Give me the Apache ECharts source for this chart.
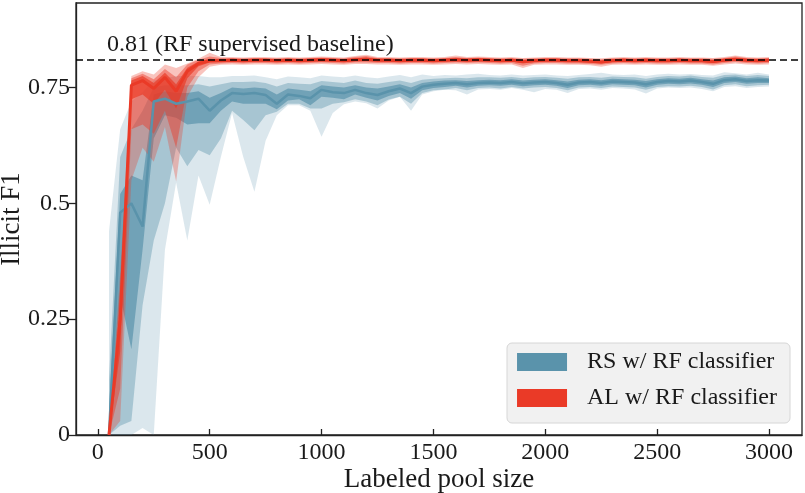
<!DOCTYPE html>
<html style="height: 100%">
<head>
    <meta charset="utf-8">
</head>
<body style="height: 100%; margin: 0; background: #fff">
<div id="container" style="width: 805px; height: 493px"></div>
<script src="https://cdn.jsdelivr.net/npm/echarts@6/dist/echarts.min.js"></script>
<script type="text/javascript">
    // labeled pool sizes (50 .. 3000, step 50)
    var poolSize = [
        50, 100, 150, 200, 250, 300, 350, 400, 450, 500,
        550, 600, 650, 700, 750, 800, 850, 900, 950, 1000,
        1050, 1100, 1150, 1200, 1250, 1300, 1350, 1400, 1450, 1500,
        1550, 1600, 1650, 1700, 1750, 1800, 1850, 1900, 1950, 2000,
        2050, 2100, 2150, 2200, 2250, 2300, 2350, 2400, 2450, 2500,
        2550, 2600, 2650, 2700, 2750, 2800, 2850, 2900, 2950, 3000
    ];
    var xTicks = [0, 500, 1000, 1500, 2000, 2500, 3000];
    var yTicks = [0, 0.25, 0.5, 0.75];
    var baseline = 0.81;

    // RS w/ RF classifier : median + three spread bands
    var rsMed = [
        0.00, 0.48, 0.50, 0.45, 0.72, 0.726, 0.715, 0.72, 0.726, 0.70,
        0.722, 0.738, 0.736, 0.738, 0.734, 0.715, 0.735, 0.732, 0.727, 0.745,
        0.740, 0.738, 0.745, 0.738, 0.734, 0.742, 0.748, 0.738, 0.752, 0.756,
        0.758, 0.760, 0.757, 0.760, 0.761, 0.760, 0.762, 0.759, 0.761, 0.762,
        0.760, 0.756, 0.761, 0.762, 0.760, 0.763, 0.762, 0.761, 0.757, 0.762,
        0.764, 0.763, 0.765, 0.762, 0.758, 0.766, 0.768, 0.764, 0.766, 0.765
    ];
    var rsInHi = [
        0.05, 0.52, 0.56, 0.55, 0.735, 0.742, 0.738, 0.738, 0.742, 0.728,
        0.738, 0.750, 0.748, 0.750, 0.748, 0.735, 0.748, 0.745, 0.742, 0.755,
        0.752, 0.750, 0.755, 0.750, 0.748, 0.752, 0.757, 0.750, 0.760, 0.763,
        0.765, 0.766, 0.764, 0.766, 0.767, 0.766, 0.768, 0.765, 0.767, 0.768,
        0.766, 0.763, 0.767, 0.768, 0.766, 0.769, 0.768, 0.767, 0.764, 0.768,
        0.770, 0.769, 0.771, 0.768, 0.765, 0.772, 0.774, 0.770, 0.772, 0.770
    ];
    var rsInLo = [
        0.00, 0.30, 0.185, 0.40, 0.64, 0.69, 0.685, 0.67, 0.673, 0.673,
        0.70, 0.72, 0.715, 0.715, 0.715, 0.703, 0.722, 0.725, 0.712, 0.73,
        0.728, 0.725, 0.735, 0.728, 0.722, 0.732, 0.738, 0.726, 0.744, 0.749,
        0.751, 0.754, 0.750, 0.754, 0.755, 0.754, 0.756, 0.753, 0.755, 0.756,
        0.754, 0.749, 0.755, 0.756, 0.754, 0.757, 0.756, 0.755, 0.750, 0.756,
        0.758, 0.757, 0.759, 0.756, 0.751, 0.760, 0.762, 0.758, 0.760, 0.760
    ];
    var rsMidHi = [
        0.12, 0.60, 0.66, 0.70, 0.75, 0.755, 0.755, 0.755, 0.757, 0.752,
        0.757, 0.762, 0.762, 0.763, 0.760, 0.752, 0.760, 0.758, 0.757, 0.764,
        0.762, 0.760, 0.765, 0.760, 0.758, 0.762, 0.765, 0.760, 0.767, 0.769,
        0.770, 0.771, 0.770, 0.772, 0.772, 0.771, 0.773, 0.770, 0.772, 0.773,
        0.771, 0.769, 0.772, 0.773, 0.771, 0.774, 0.773, 0.772, 0.769, 0.773,
        0.775, 0.774, 0.776, 0.773, 0.771, 0.777, 0.778, 0.775, 0.777, 0.775
    ];
    var rsMidLo = [
        0.00, 0.02, 0.03, 0.28, 0.42, 0.50, 0.62, 0.58, 0.615, 0.604,
        0.64, 0.70, 0.68, 0.658, 0.69, 0.698, 0.715, 0.715, 0.705, 0.705,
        0.715, 0.718, 0.725, 0.72, 0.712, 0.724, 0.73, 0.715, 0.738, 0.744,
        0.746, 0.749, 0.744, 0.749, 0.750, 0.748, 0.751, 0.748, 0.750, 0.751,
        0.749, 0.744, 0.750, 0.751, 0.749, 0.752, 0.751, 0.750, 0.745, 0.751,
        0.753, 0.752, 0.754, 0.751, 0.746, 0.755, 0.757, 0.753, 0.755, 0.756
    ];
    var rsOutHi = [
        0.44, 0.66, 0.72, 0.74, 0.765, 0.77, 0.775, 0.775, 0.775, 0.772,
        0.772, 0.775, 0.775, 0.776, 0.772, 0.768, 0.774, 0.772, 0.770, 0.776,
        0.774, 0.772, 0.776, 0.772, 0.770, 0.774, 0.777, 0.772, 0.778, 0.775,
        0.777, 0.776, 0.778, 0.780, 0.777, 0.776, 0.778, 0.776, 0.777, 0.778,
        0.776, 0.775, 0.777, 0.779, 0.782, 0.778, 0.777, 0.778, 0.775, 0.778,
        0.780, 0.778, 0.779, 0.777, 0.776, 0.783, 0.781, 0.778, 0.782, 0.778
    ];
    var rsOutLo = [
        0.00, 0.00, 0.00, 0.015, 0.00, 0.40, 0.545, 0.42, 0.56, 0.497,
        0.60, 0.695, 0.60, 0.525, 0.635, 0.69, 0.712, 0.712, 0.70, 0.644,
        0.695, 0.714, 0.72, 0.716, 0.705, 0.722, 0.73, 0.70, 0.735, 0.742,
        0.745, 0.744, 0.735, 0.746, 0.747, 0.745, 0.749, 0.745, 0.740, 0.747,
        0.745, 0.738, 0.747, 0.748, 0.745, 0.749, 0.748, 0.746, 0.737, 0.748,
        0.750, 0.749, 0.750, 0.747, 0.742, 0.751, 0.753, 0.749, 0.751, 0.752
    ];

    // AL w/ RF classifier : median + three spread bands
    var alMed = [
        0.00, 0.25, 0.755, 0.765, 0.748, 0.772, 0.742, 0.785, 0.802, 0.808,
        0.808, 0.809, 0.808, 0.809, 0.809, 0.808, 0.809, 0.808, 0.809, 0.810,
        0.809, 0.808, 0.810, 0.811, 0.809, 0.809, 0.808, 0.809, 0.809, 0.808,
        0.809, 0.810, 0.809, 0.810, 0.809, 0.808, 0.809, 0.806, 0.808, 0.809,
        0.809, 0.808, 0.808, 0.807, 0.805, 0.808, 0.809, 0.808, 0.809, 0.808,
        0.808, 0.809, 0.808, 0.808, 0.806, 0.809, 0.811, 0.809, 0.808, 0.809
    ];
    var alInHi = [
        0.00, 0.29, 0.765, 0.775, 0.76, 0.782, 0.757, 0.793, 0.806, 0.812,
        0.811, 0.812, 0.811, 0.812, 0.812, 0.811, 0.812, 0.811, 0.812, 0.813,
        0.812, 0.811, 0.813, 0.815, 0.812, 0.812, 0.811, 0.812, 0.812, 0.811,
        0.812, 0.813, 0.812, 0.813, 0.812, 0.811, 0.812, 0.809, 0.811, 0.812,
        0.812, 0.811, 0.811, 0.810, 0.808, 0.811, 0.812, 0.811, 0.812, 0.811,
        0.811, 0.812, 0.811, 0.811, 0.809, 0.812, 0.814, 0.812, 0.811, 0.812
    ];
    var alInLo = [
        0.00, 0.18, 0.725, 0.735, 0.715, 0.745, 0.705, 0.77, 0.796, 0.804,
        0.805, 0.806, 0.805, 0.806, 0.806, 0.805, 0.806, 0.805, 0.806, 0.807,
        0.806, 0.805, 0.807, 0.807, 0.806, 0.806, 0.805, 0.806, 0.806, 0.805,
        0.806, 0.807, 0.806, 0.807, 0.806, 0.805, 0.806, 0.802, 0.805, 0.806,
        0.806, 0.805, 0.805, 0.804, 0.802, 0.805, 0.806, 0.805, 0.806, 0.805,
        0.805, 0.806, 0.805, 0.805, 0.803, 0.806, 0.808, 0.806, 0.805, 0.806
    ];
    var alMidHi = [
        0.00, 0.32, 0.77, 0.78, 0.768, 0.79, 0.772, 0.80, 0.81, 0.817,
        0.814, 0.814, 0.813, 0.814, 0.814, 0.813, 0.814, 0.813, 0.814, 0.815,
        0.814, 0.813, 0.816, 0.818, 0.814, 0.814, 0.813, 0.814, 0.814, 0.813,
        0.814, 0.816, 0.814, 0.815, 0.814, 0.813, 0.814, 0.812, 0.813, 0.814,
        0.814, 0.813, 0.813, 0.812, 0.811, 0.813, 0.814, 0.813, 0.814, 0.813,
        0.813, 0.814, 0.813, 0.813, 0.812, 0.814, 0.817, 0.814, 0.813, 0.814
    ];
    var alMidLo = [
        0.00, 0.10, 0.66, 0.67, 0.65, 0.70, 0.62, 0.75, 0.785, 0.80,
        0.802, 0.803, 0.802, 0.803, 0.803, 0.802, 0.803, 0.802, 0.803, 0.804,
        0.803, 0.802, 0.804, 0.804, 0.803, 0.803, 0.802, 0.803, 0.803, 0.802,
        0.803, 0.804, 0.803, 0.804, 0.803, 0.802, 0.803, 0.797, 0.802, 0.803,
        0.803, 0.802, 0.802, 0.801, 0.799, 0.802, 0.803, 0.802, 0.803, 0.802,
        0.802, 0.803, 0.802, 0.802, 0.800, 0.803, 0.805, 0.803, 0.802, 0.803
    ];
    var alOutHi = [
        0.00, 0.35, 0.775, 0.785, 0.778, 0.80, 0.792, 0.802, 0.812, 0.825,
        0.816, 0.816, 0.815, 0.816, 0.816, 0.815, 0.816, 0.815, 0.816, 0.817,
        0.816, 0.815, 0.818, 0.821, 0.816, 0.816, 0.815, 0.816, 0.816, 0.815,
        0.816, 0.819, 0.816, 0.817, 0.816, 0.815, 0.816, 0.814, 0.815, 0.816,
        0.816, 0.815, 0.815, 0.814, 0.813, 0.815, 0.816, 0.815, 0.816, 0.815,
        0.815, 0.816, 0.815, 0.815, 0.814, 0.816, 0.819, 0.816, 0.815, 0.816
    ];
    var alOutLo = [
        0.00, 0.03, 0.55, 0.62, 0.59, 0.665, 0.547, 0.73, 0.772, 0.795,
        0.799, 0.800, 0.799, 0.800, 0.800, 0.799, 0.800, 0.799, 0.800, 0.801,
        0.800, 0.799, 0.801, 0.801, 0.800, 0.800, 0.799, 0.800, 0.800, 0.799,
        0.800, 0.801, 0.800, 0.801, 0.800, 0.799, 0.800, 0.792, 0.799, 0.800,
        0.800, 0.799, 0.799, 0.798, 0.795, 0.799, 0.800, 0.799, 0.800, 0.799,
        0.799, 0.800, 0.799, 0.799, 0.797, 0.800, 0.802, 0.800, 0.799, 0.800
    ];

    var RS_COLOR = '#5a93ab';
    var AL_COLOR = '#ea3a27';
    var FONT = 'Liberation Serif';

    function pairs(ys) {
        return poolSize.map(function (x, i) { return [x, ys[i]]; });
    }

    // one filled polygon between lo and hi, built from the axis scales
    function band(lo, hi, color, opacity, z) {
        var fill = echarts.color.modifyAlpha(color, opacity);
        return {
            type: 'custom', silent: true, z: z, clip: true,
            data: poolSize.map(function (x, i) { return [x, lo[i], hi[i]]; }),
            encode: {x: 0, y: [1, 2]},
            renderItem: function (params, api) {
                if (params.dataIndexInside !== 0) return null;
                var n = params.dataInsideLength;
                var top = [], bottom = [];
                for (var i = 0; i < n; i++) {
                    top.push(api.coord([api.value(0, i), api.value(2, i)]));
                    bottom.push(api.coord([api.value(0, i), api.value(1, i)]));
                }
                return {
                    type: 'polygon',
                    shape: {points: top.concat(bottom.reverse())},
                    style: {fill: fill}
                };
            }
        };
    }

    var series = [
        band(rsOutLo, rsOutHi, RS_COLOR, 0.22, 1),
        band(rsMidLo, rsMidHi, RS_COLOR, 0.40, 1),
        band(rsInLo, rsInHi, RS_COLOR, 0.70, 1),
        band(alOutLo, alOutHi, AL_COLOR, 0.30, 2),
        band(alMidLo, alMidHi, AL_COLOR, 0.45, 2),
        band(alInLo, alInHi, AL_COLOR, 0.70, 2),
        {
            name: 'RS w/ RF classifier', type: 'line', data: pairs(rsMed),
            symbol: 'none', z: 3,
            lineStyle: {color: RS_COLOR, width: 2.5}, itemStyle: {color: RS_COLOR}
        },
        {
            name: 'AL w/ RF classifier', type: 'line', data: pairs(alMed),
            symbol: 'none', z: 4,
            lineStyle: {color: AL_COLOR, width: 3}, itemStyle: {color: AL_COLOR},
            markLine: {
                silent: true, symbol: 'none', z: 10,
                lineStyle: {color: '#000', type: [7, 4], width: 1.6},
                label: {
                    position: 'insideStartTop', distance: [31, 3],
                    formatter: baseline.toFixed(2) + ' (RF supervised baseline)',
                    fontFamily: FONT, fontSize: 24, color: '#1a1a1a'
                },
                data: [{yAxis: baseline}]
            }
        }
    ];

    var dom = document.getElementById("container");
    var myChart = echarts.init(dom);
    var option = {
        animation: false,
        backgroundColor: '#fff',
        grid: {
            left: 76, right: 3, top: 3, bottom: 58,
            outerBoundsMode: 'none',
            show: true, borderColor: '#222', borderWidth: 1.3
        },
        legend: {
            right: 15, bottom: 70,
            orient: 'vertical',
            selectedMode: false,
            backgroundColor: 'rgba(240,240,240,0.9)',
            borderColor: '#d6d6d6', borderWidth: 1, borderRadius: 5,
            padding: [7, 13, 13, 10],
            itemWidth: 50, itemHeight: 18, itemGap: 12,
            textStyle: {fontFamily: FONT, fontSize: 24, color: '#1a1a1a', padding: [0, 0, 0, 15]},
            data: [
                {name: 'RS w/ RF classifier', icon: 'rect', itemStyle: {color: RS_COLOR}},
                {name: 'AL w/ RF classifier', icon: 'rect', itemStyle: {color: AL_COLOR}}
            ]
        },
        xAxis: {
            type: 'value', min: -97.5, max: 3147.5,
            name: 'Labeled pool size', nameLocation: 'middle', nameGap: 31,
            nameMoveOverlap: false,
            nameTextStyle: {fontFamily: FONT, fontSize: 27, color: '#1a1a1a'},
            splitLine: {show: false},
            axisLine: {onZero: false, lineStyle: {color: '#222', width: 1.3}},
            axisTick: {inside: true, length: 6, customValues: xTicks, lineStyle: {color: '#222', width: 1.3}},
            axisLabel: {
                customValues: xTicks, margin: 6, fontFamily: FONT, fontSize: 24, color: '#1a1a1a',
                formatter: function (v) { return String(v); }
            }
        },
        yAxis: {
            type: 'value', min: 0, max: 0.9325,
            name: 'Illicit F1', nameLocation: 'middle', nameGap: 51,
            nameMoveOverlap: false,
            nameTextStyle: {fontFamily: FONT, fontSize: 27, color: '#1a1a1a'},
            splitLine: {show: false},
            axisLine: {onZero: false, lineStyle: {color: '#222', width: 1.3}},
            axisTick: {length: 7, customValues: yTicks, lineStyle: {color: '#222', width: 1.3}},
            axisLabel: {customValues: yTicks, margin: 6, fontFamily: FONT, fontSize: 24, color: '#1a1a1a'}
        },
        series: series
    };
    myChart.setOption(option);
</script>
</body>
</html>
